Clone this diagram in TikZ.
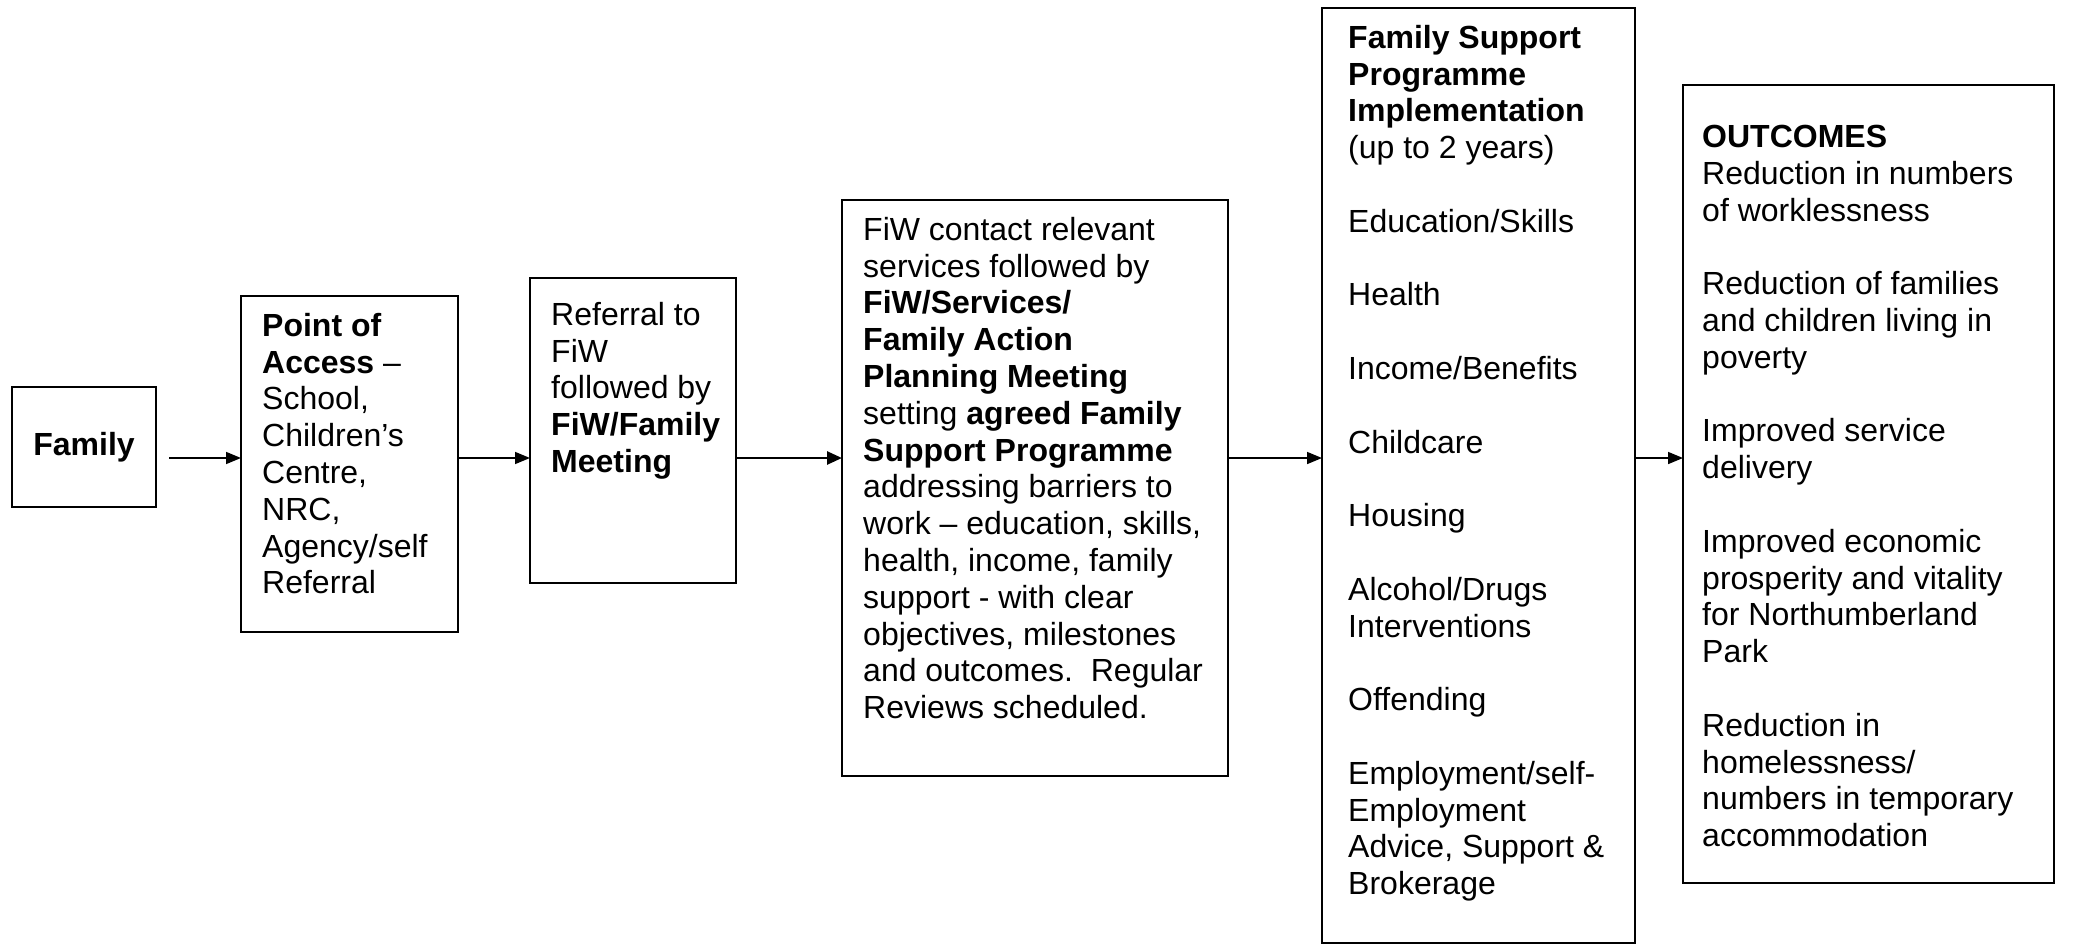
\documentclass[tikz,border=0pt]{standalone}
\usepackage{fontspec}
\setmainfont{Liberation Sans}
\usetikzlibrary{arrows.meta}
\begin{document}
\begin{tikzpicture}[x=1pt,y=-1pt,
  box/.style={draw, line width=2pt, inner sep=0pt, outer sep=0pt, anchor=north west},
  txt/.style={anchor=north west, inner sep=0pt, align=left, font=\fontsize{32}{36.8}\selectfont},
  arr/.style={line width=1.6pt, -{Triangle[length=15pt,width=12pt]}},
  arrthick/.style={line width=2.6pt, -{Triangle[length=15pt,width=13pt]}}]
\useasboundingbox (0,0) rectangle (2076,944);
% boxes
\node[box, minimum width=144pt, minimum height=120pt] (fam) at (12,387) {};
\node[box, minimum width=217pt, minimum height=336pt] (poa) at (241,296) {};
\node[box, minimum width=206pt, minimum height=305pt] (ref) at (530,278) {};
\node[box, minimum width=386pt, minimum height=576pt] (fiw) at (842,200) {};
\node[box, minimum width=313pt, minimum height=935pt] (fsp) at (1322,8) {};
\node[box, minimum width=371pt, minimum height=798pt] (out) at (1683,85) {};
% texts
\node[font=\bfseries\fontsize{32}{36.8}\selectfont, inner sep=0pt] (famt) at (fam.center) {Family};
\node[txt] (poat) at ([shift={(21,17)}]poa.north west)
 {\textbf{Point of}\\\textbf{Access} –\\School,\\Children’s\\Centre,\\NRC,\\Agency/self\\Referral};
\node[txt] (reft) at ([shift={(21,24)}]ref.north west)
 {Referral to\\FiW\\followed by\\\textbf{FiW/Family}\\\textbf{Meeting}};
\node[txt] (fiwt) at ([shift={(21,17)}]fiw.north west)
 {FiW contact relevant\\services followed by\\\textbf{FiW/Services/}\\\textbf{Family Action}\\\textbf{Planning Meeting}\\setting \textbf{agreed Family}\\\textbf{Support Programme}\\addressing barriers to\\work – education, skills,\\health, income, family\\support - with clear\\objectives, milestones\\and outcomes.\ \ Regular\\Reviews scheduled.};
\node[txt] (fspt) at ([shift={(26,17)}]fsp.north west)
 {\textbf{Family Support}\\\textbf{Programme}\\\textbf{Implementation}\\(up to 2 years)\\[36.8pt]Education/Skills\\[36.8pt]Health\\[36.8pt]Income/Benefits\\[36.8pt]Childcare\\[36.8pt]Housing\\[36.8pt]Alcohol/Drugs\\Interventions\\[36.8pt]Offending\\[36.8pt]Employment/self-\\Employment\\Advice, Support \&\\Brokerage};
\node[txt] (outt) at ([shift={(19,40)}]out.north west)
 {\textbf{OUTCOMES}\\Reduction in numbers\\of worklessness\\[36.8pt]Reduction of families\\and children living in\\poverty\\[36.8pt]Improved service\\delivery\\[36.8pt]Improved economic\\prosperity and vitality\\for Northumberland\\Park\\[36.8pt]Reduction in\\homelessness/\\numbers in temporary\\accommodation};
% arrows
\coordinate (s1) at (169,458);
\draw[arr] (s1) -- (s1 -| poa.west);
\draw[arr] (poa.east |- s1) -- (ref.west |- s1);
\draw[arrthick] (ref.east |- s1) -- (fiw.west |- s1);
\draw[arr] (fiw.east |- s1) -- (fsp.west |- s1);
\draw[arr] (fsp.east |- s1) -- (out.west |- s1);
\end{tikzpicture}
\end{document}
